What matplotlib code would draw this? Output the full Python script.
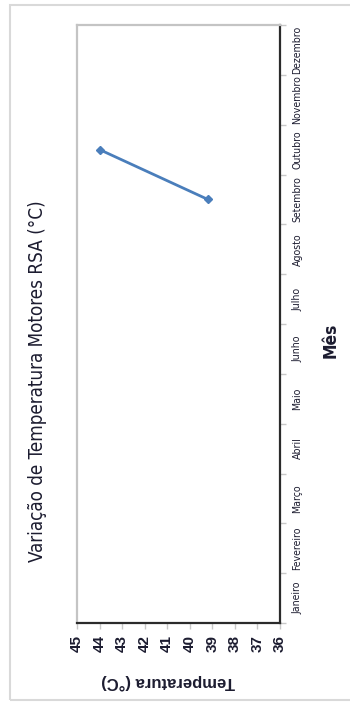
import numpy as np
import matplotlib
matplotlib.use("Agg")
import matplotlib.pyplot as plt
from matplotlib import font_manager as fm
from matplotlib.patches import Rectangle
from matplotlib.ticker import FixedLocator

# dados
meses = ['Janeiro', 'Fevereiro', 'Março', 'Abril', 'Maio', 'Junho',
         'Julho', 'Agosto', 'Setembro', 'Outubro', 'Novembro', 'Dezembro']
meses_medidos = ['Setembro', 'Outubro']
temperaturas = [39.2, 44.0]
escala_temp = [45, 44, 43, 42, 41, 40, 39, 38, 37, 36]

texto_cor = '#1c1c30'
azul = '#4a7ebb'


def eh_negrito(f):
    w = f.weight
    if isinstance(w, str):
        return w in ('bold', 'heavy', 'extra bold', 'black', 'demibold', 'semibold')
    return w >= 600


def fonte_estreita(negrito=False):
    """procura uma fonte estreita (Narrow/Condensed); devolve (props, fator)"""
    prefer = ['Liberation Sans Narrow', 'DejaVu Sans Condensed', 'DejaVu Sans']
    achadas = []
    for f in fm.fontManager.ttflist:
        estreita = ('Narrow' in f.name or 'Condensed' in f.name
                    or f.stretch in ('condensed', 'semi-condensed', 'extra-condensed'))
        if estreita and f.style == 'normal' and eh_negrito(f) == negrito:
            rank = prefer.index(f.name) if f.name in prefer else len(prefer)
            achadas.append((rank, f.fname))
    if achadas:
        achadas.sort()
        return fm.FontProperties(fname=achadas[0][1]), 1.0
    return fm.FontProperties(family='Liberation Sans',
                             weight='bold' if negrito else 'normal'), 0.95


fonte_n, k_n = fonte_estreita(False)
fonte_b, k_b = fonte_estreita(True)

fig = plt.figure(figsize=(3.5, 7.02), dpi=100)
fig.patch.set_facecolor('white')
fig.patches.append(Rectangle((10/350, 2/702), 345/350, 695/702, transform=fig.transFigure,
                             fill=False, edgecolor='#d9d9d9', linewidth=1.5))

# grafico rodado: temperatura no eixo horizontal, meses no vertical
ax = fig.add_axes([77/350, 79/702, 203/350, 598/702])
pos = [meses.index(m) for m in meses_medidos]
ax.plot(temperaturas, pos, color=azul, linewidth=2, marker='D', markersize=4.5,
        markerfacecolor=azul, markeredgecolor=azul)

ax.set_xlim(45, 36)
ax.set_ylim(-0.5, 11.5)

ax.set_xticks(escala_temp)
ax.set_xticklabels([str(t) for t in escala_temp], rotation=90, fontsize=11,
                   fontweight='bold', family='Liberation Sans', color=texto_cor,
                   va='top', ha='center')
ax.xaxis.set_tick_params(direction='out', length=4, width=1, color='#c8c8c8', pad=5)

ax.yaxis.tick_right()
ax.set_yticks(np.arange(len(meses)))
ax.set_yticklabels(meses, rotation=90, color=texto_cor, va='center', ha='left')
for t in ax.get_yticklabels():
    t.set_fontproperties(fonte_n)
    t.set_fontsize(7.6 * k_n)
ax.yaxis.set_tick_params(which='major', length=0, pad=9)
ax.yaxis.set_minor_locator(FixedLocator(np.arange(-0.5, 12, 1.0)))
ax.yaxis.set_tick_params(which='minor', direction='out', length=4, width=1, color='#c8c8c8')

for lado in ['top', 'left']:
    ax.spines[lado].set_color('#c4c4c4')
    ax.spines[lado].set_linewidth(1.6)
for lado in ['bottom', 'right']:
    ax.spines[lado].set_color('#2b2b2b')
    ax.spines[lado].set_linewidth(1.6)

fig.text(38/350, 1 - 381/702, 'Variação de Temperatura Motores RSA (°C)', rotation=90,
         ha='center', va='center', fontproperties=fonte_n, fontsize=13.5 * k_n,
         color=texto_cor)
fig.text(331/350, 1 - 340/702, 'Mês', rotation=90, ha='center', va='center',
         fontproperties=fonte_b, fontsize=12.5 * k_b, color=texto_cor)
fig.text(168/350, 1 - 682/702, 'Temperatura (°C)', rotation=180, ha='center', va='center',
         fontsize=12, fontweight='bold', family='Liberation Sans', color=texto_cor)

fig.savefig('out.png', dpi=100)
